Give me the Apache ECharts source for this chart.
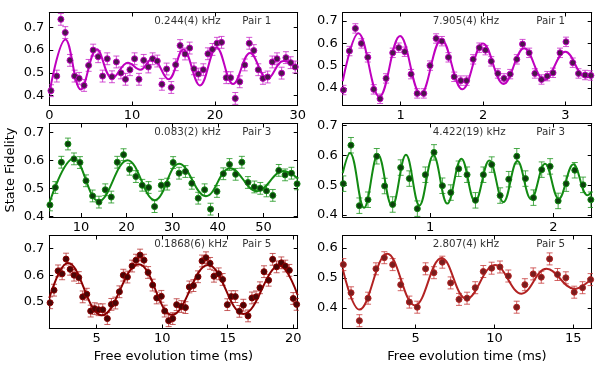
<!DOCTYPE html>
<html>
<head>
<meta charset="utf-8">
<script src="https://cdn.jsdelivr.net/npm/echarts@6/dist/echarts.min.js"></script>
<style>
  html, body { margin: 0; padding: 0; background: #fff; }
  #main { width: 599px; height: 378px; }
</style>
</head>
<body>
<div id="main"></div>
<script>
// ---- data (time in ms, state fidelity) ----
const p1T = [0.2,0.9,1.4,1.93,2.5,3.06,3.6,4.2,4.75,5.3,5.9,6.44,7.0,7.57,8.1,8.65,9.2,9.74,10.3,10.83,11.4,11.96,12.48,13.04,13.6,14.17,14.73,15.26,15.8,16.4,16.95,17.47,18.0,18.6,19.16,19.7,20.25,20.8,21.37,21.9,22.46,23.0,23.6,24.15,24.7,25.24,25.8,26.37,26.93,27.5,28.06,28.58,29.15,29.7];
const p1F = [0.422,0.486,0.735,0.677,0.555,0.486,0.476,0.445,0.533,0.600,0.571,0.486,0.562,0.483,0.548,0.500,0.472,0.514,0.562,0.472,0.555,0.526,0.562,0.552,0.450,0.517,0.436,0.536,0.620,0.583,0.609,0.518,0.495,0.514,0.584,0.603,0.630,0.634,0.479,0.479,0.388,0.461,0.535,0.630,0.598,0.514,0.476,0.482,0.548,0.562,0.499,0.567,0.545,0.526];
const p1FitT = [0,1.95,3.8,5.75,7.6,9.5,11.0,12.45,14.4,16.18,18.2,20.2,22.2,24.25,26.35,28.28,30];
const p1FitF = [0.41,0.647,0.427,0.604,0.476,0.545,0.514,0.564,0.472,0.603,0.445,0.612,0.451,0.587,0.474,0.552,0.526];

const p2T = [0.304,0.377,0.449,0.522,0.600,0.672,0.749,0.822,0.903,0.976,1.049,1.126,1.200,1.280,1.356,1.430,1.500,1.580,1.650,1.730,1.800,1.880,1.955,2.030,2.100,2.180,2.255,2.330,2.410,2.480,2.560,2.630,2.710,2.780,2.850,2.935,3.008,3.090,3.160,3.240,3.310];
const p2F = [0.391,0.565,0.666,0.599,0.537,0.394,0.352,0.443,0.557,0.580,0.562,0.462,0.376,0.376,0.500,0.621,0.609,0.537,0.450,0.433,0.433,0.528,0.580,0.569,0.519,0.465,0.443,0.462,0.528,0.596,0.557,0.465,0.438,0.453,0.468,0.557,0.606,0.513,0.465,0.458,0.456];
const p2FitT = [0.295,0.486,0.741,0.992,1.243,1.494,1.75,2.0,2.25,2.5,2.745,3.0,3.25,3.32];
const p2FitF = [0.43,0.644,0.361,0.632,0.372,0.617,0.394,0.599,0.418,0.577,0.436,0.562,0.447,0.453];

const p3T = [3.2,4.38,5.7,7.15,8.47,9.78,11.1,12.55,13.94,15.33,16.64,17.96,19.34,20.66,22.04,23.43,24.82,26.13,27.6,28.9,30.2,31.5,32.9,34.3,35.7,37.1,38.4,39.8,41.2,42.55,43.9,45.26,46.6,48.0,49.3,50.66,52.04,53.36,54.74,56.13,57.37];
const p3F = [0.441,0.503,0.593,0.658,0.605,0.592,0.527,0.473,0.451,0.495,0.469,0.593,0.620,0.568,0.542,0.511,0.503,0.435,0.511,0.515,0.592,0.554,0.560,0.518,0.465,0.495,0.426,0.489,0.552,0.585,0.550,0.593,0.521,0.505,0.500,0.491,0.475,0.564,0.548,0.554,0.516];
const p3FitT = [3.06,8.4,13.9,20.2,26.2,31.5,37.4,42.7,48.6,54.4,57.5];
const p3FitF = [0.447,0.606,0.454,0.600,0.458,0.588,0.472,0.572,0.490,0.562,0.536];

const p4T = [0.297,0.359,0.427,0.497,0.568,0.632,0.697,0.762,0.832,0.897,0.962,1.032,1.100,1.168,1.232,1.300,1.368,1.432,1.500,1.568,1.638,1.703,1.773,1.838,1.905,1.973,2.038,2.103,2.173,2.240,2.303];
const p4F = [0.505,0.634,0.431,0.451,0.597,0.497,0.435,0.559,0.522,0.421,0.535,0.610,0.498,0.475,0.555,0.535,0.449,0.535,0.569,0.465,0.520,0.597,0.522,0.458,0.552,0.563,0.447,0.505,0.550,0.501,0.451];
const p4FitT = [0.292,0.351,0.465,0.578,0.692,0.805,0.914,1.027,1.14,1.254,1.365,1.48,1.595,1.708,1.819,1.932,2.043,2.162,2.276,2.31];
const p4FitF = [0.54,0.608,0.424,0.603,0.429,0.602,0.432,0.600,0.438,0.589,0.445,0.583,0.443,0.581,0.453,0.572,0.454,0.570,0.466,0.477];

const p5T = [1.44,1.74,2.05,2.36,2.66,2.97,3.27,3.63,3.93,4.24,4.54,4.85,5.15,5.46,5.81,6.12,6.42,6.73,7.03,7.34,7.70,8.00,8.31,8.61,8.92,9.27,9.58,9.93,10.19,10.49,10.80,11.10,11.46,11.77,12.07,12.38,12.73,13.04,13.34,13.65,13.95,14.31,14.61,14.97,15.27,15.58,15.89,16.19,16.55,16.85,17.16,17.46,17.77,18.12,18.43,18.73,19.09,19.39,19.70,20.00,20.26];
const p5F = [0.497,0.544,0.616,0.605,0.660,0.622,0.600,0.591,0.519,0.529,0.466,0.475,0.471,0.471,0.438,0.491,0.496,0.538,0.600,0.593,0.634,0.656,0.675,0.656,0.610,0.563,0.515,0.521,0.466,0.430,0.438,0.490,0.483,0.479,0.556,0.561,0.594,0.653,0.665,0.644,0.596,0.605,0.584,0.490,0.520,0.520,0.465,0.488,0.448,0.515,0.519,0.553,0.613,0.581,0.659,0.631,0.646,0.634,0.618,0.513,0.491];
const p5FitT = [1.38,2.8,5.38,8.2,10.75,13.5,16.2,18.95,20.34];
const p5FitF = [0.515,0.645,0.450,0.641,0.452,0.638,0.455,0.636,0.525];

const p6T = [0.41,0.90,1.43,1.98,2.48,3.01,3.54,4.05,4.60,5.10,5.63,6.16,6.69,7.22,7.75,8.26,8.78,9.29,9.82,10.35,10.88,11.41,11.93,12.46,12.97,13.50,14.00,14.53,15.06,15.59,16.10];
const p6F = [0.544,0.450,0.357,0.432,0.530,0.567,0.544,0.477,0.419,0.402,0.530,0.517,0.552,0.483,0.428,0.432,0.467,0.521,0.532,0.536,0.506,0.402,0.477,0.513,0.502,0.563,0.511,0.500,0.452,0.467,0.494];
const p6FitT = [0.37,1.43,3.2,4.96,6.65,8.23,10.03,11.72,13.3,15.1,16.17];
const p6FitF = [0.53,0.394,0.580,0.408,0.566,0.430,0.543,0.447,0.530,0.463,0.497];

// error bar half-heights, one per panel
const errBar = [0.026, 0.021, 0.021, 0.026, 0.022, 0.020];

// axis ranges and ticks
const xRange = [[0, 30], [0.295, 3.32], [3.06, 57.5], [0.292, 2.31], [1.38, 20.34], [0.37, 16.17]];
const yRange = [[0.357, 0.765], [0.322, 0.737], [0.398, 0.731], [0.393, 0.707], [0.401, 0.748], [0.331, 0.641]];
const xTicks = [[0, 10, 20, 30], [1, 2, 3], [10, 20, 30, 40, 50], [1, 2], [5, 10, 15, 20], [5, 10, 15]];
const yTicks = [[0.4, 0.5, 0.6, 0.7], [0.4, 0.5, 0.6, 0.7], [0.4, 0.5, 0.6, 0.7], [0.4, 0.5, 0.6, 0.7], [0.5, 0.6, 0.7], [0.4, 0.5, 0.6]];

const freqLabels = ['0.244(4) kHz', '7.905(4) kHz', '0.083(2) kHz', '4.422(19) kHz', '0.1868(6) kHz', '2.807(4) kHz'];
const pairLabels = ['Pair 1', 'Pair 1', 'Pair 3', 'Pair 3', 'Pair 5', 'Pair 5'];

const panels = [
    [p1T, p1F, p1FitT, p1FitF],
    [p2T, p2F, p2FitT, p2FitF],
    [p3T, p3F, p3FitT, p3FitF],
    [p4T, p4F, p4FitT, p4FitF],
    [p5T, p5F, p5FitT, p5FitF],
    [p6T, p6F, p6FitT, p6FitF]
];

// colours: line, marker fill, error bar
const colors = [
    ['#bf00bf', '#4d164d', 'rgba(200,40,200,0.8)'],
    ['#bf00bf', '#4d164d', 'rgba(200,40,200,0.8)'],
    ['#128a12', '#0c3f0c', 'rgba(30,150,30,0.8)'],
    ['#128a12', '#0c3f0c', 'rgba(30,150,30,0.8)'],
    ['#8b0000', '#4a0606', 'rgba(180,40,40,0.75)'],
    ['#b22222', '#7a1e1e', 'rgba(200,60,60,0.8)']
];

const grids = [
    {left: 49.3, top: 12.5, width: 248.4, height: 93},
    {left: 342.7, top: 12.5, width: 249, height: 93},
    {left: 49.3, top: 123.5, width: 248.4, height: 93.5},
    {left: 342.7, top: 123.5, width: 249, height: 93.5},
    {left: 49.3, top: 235.5, width: 248.4, height: 93},
    {left: 342.7, top: 235.5, width: 249, height: 93}
];

const FONT = 'DejaVu Sans';
const xAxes = [], yAxes = [], series = [], graphics = [];

function axisBase(show) {
    return {
        axisLine: {onZero: false, lineStyle: {color: '#000', width: 1}},
        splitLine: {show: false},
        axisLabel: {show: show, color: '#000', fontSize: 13, fontFamily: FONT},
        axisTick: {inside: true, length: 4, lineStyle: {color: '#000'}}
    };
}

panels.forEach(function (p, i) {
    const [t, f, fitT, fitF] = p;
    ['bottom', 'top'].forEach(function (pos, k) {
        const a = axisBase(k === 0);
        a.gridIndex = i; a.type = 'value'; a.position = pos;
        a.min = xRange[i][0]; a.max = xRange[i][1];
        a.axisTick.customValues = xTicks[i];
        a.axisLabel.customValues = xTicks[i];
        a.axisLabel.margin = 4;
        xAxes.push(a);
    });
    ['left', 'right'].forEach(function (pos, k) {
        const a = axisBase(k === 0);
        a.gridIndex = i; a.type = 'value'; a.position = pos;
        a.min = yRange[i][0]; a.max = yRange[i][1];
        a.axisTick.customValues = yTicks[i];
        a.axisLabel.customValues = yTicks[i];
        a.axisLabel.margin = 5;
        a.axisLabel.formatter = function (v) { return v.toFixed(1); };
        yAxes.push(a);
    });

    const [lineC, fillC, errC] = colors[i];
    const e = errBar[i];

    series.push({
        type: 'custom', xAxisIndex: 2 * i, yAxisIndex: 2 * i, z: 1, silent: true, clip: true,
        data: t.map(function (x, k) { return [x, f[k], e]; }),
        renderItem: function (params, api) {
            const x = api.value(0), y = api.value(1), err = api.value(2);
            const hi = api.coord([x, y + err]), lo = api.coord([x, y - err]);
            const w = 3;
            const st = {stroke: errC, lineWidth: 1};
            return {type: 'group', children: [
                {type: 'line', shape: {x1: hi[0], y1: hi[1], x2: lo[0], y2: lo[1]}, style: st},
                {type: 'line', shape: {x1: hi[0] - w, y1: hi[1], x2: hi[0] + w, y2: hi[1]}, style: st},
                {type: 'line', shape: {x1: lo[0] - w, y1: lo[1], x2: lo[0] + w, y2: lo[1]}, style: st}
            ]};
        }
    });
    series.push({
        type: 'line', xAxisIndex: 2 * i, yAxisIndex: 2 * i, z: 2, silent: true,
        data: fitT.map(function (x, k) { return [x, fitF[k]]; }),
        smooth: 0.4, showSymbol: false, clip: true,
        lineStyle: {color: lineC, width: 2}
    });
    series.push({
        type: 'scatter', xAxisIndex: 2 * i, yAxisIndex: 2 * i, z: 3, silent: true,
        data: t.map(function (x, k) { return [x, f[k]]; }),
        symbolSize: 6,
        itemStyle: {color: fillC, borderColor: lineC, borderWidth: 1, opacity: 1}
    });

    const g = grids[i];
    graphics.push({
        type: 'text', x: g.left + (i % 2 === 0 ? 105 : 90), y: g.top + 9,
        style: {text: freqLabels[i], font: '10.3px ' + FONT, fill: '#333', textAlign: 'left', textVerticalAlign: 'middle'}
    });
    graphics.push({
        type: 'text', x: g.left + (i % 2 === 0 ? 193 : 193.5), y: g.top + 9,
        style: {text: pairLabels[i], font: '10.3px ' + FONT, fill: '#333', textAlign: 'left', textVerticalAlign: 'middle'}
    });
});

graphics.push({
    type: 'text', x: 11, y: 170, rotation: Math.PI / 2,
    style: {text: 'State Fidelity', font: '13px ' + FONT, fill: '#000', textAlign: 'center', textVerticalAlign: 'middle'}
});
graphics.push({
    type: 'text', x: 173.5, y: 357, 
    style: {text: 'Free evolution time (ms)', font: '13px ' + FONT, fill: '#000', textAlign: 'center', textVerticalAlign: 'middle'}
});
graphics.push({
    type: 'text', x: 467, y: 357,
    style: {text: 'Free evolution time (ms)', font: '13px ' + FONT, fill: '#000', textAlign: 'center', textVerticalAlign: 'middle'}
});

const chart = echarts.init(document.getElementById('main'), null, {renderer: 'canvas'});
chart.setOption({
    animation: false,
    backgroundColor: '#fff',
    grid: grids,
    xAxis: xAxes,
    yAxis: yAxes,
    series: series,
    graphic: graphics
});
</script>
</body>
</html>
